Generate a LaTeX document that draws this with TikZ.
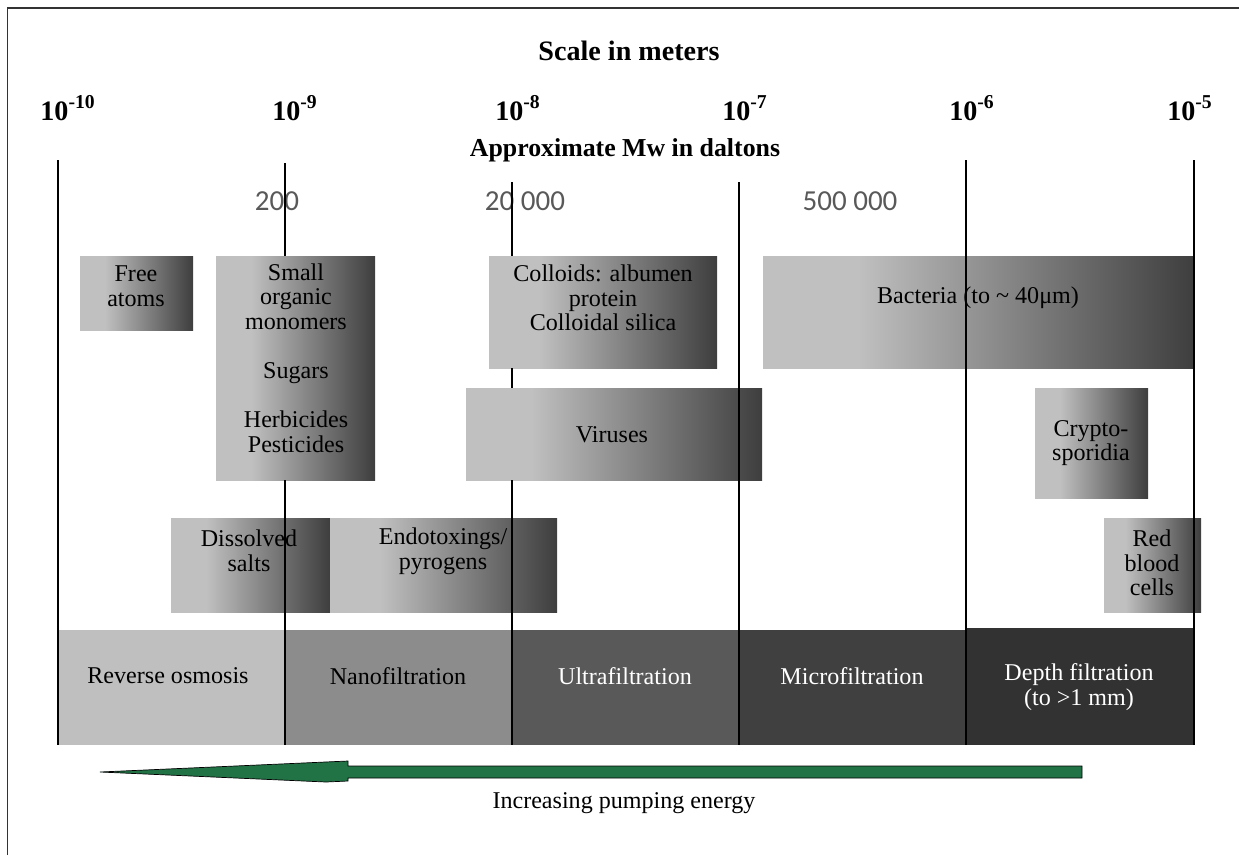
\documentclass[tikz,border=0pt]{standalone}
\usepackage{fontspec}
\setmainfont{Liberation Serif}
\newfontfamily\mwfont{Carlito}
\definecolor{boxlight}{RGB}{192,192,192}
\definecolor{boxdark}{RGB}{62,62,62}
\definecolor{rocolor}{RGB}{191,191,191}
\definecolor{nfcolor}{RGB}{140,140,140}
\definecolor{ufcolor}{RGB}{89,89,89}
\definecolor{mfcolor}{RGB}{64,64,64}
\definecolor{dfcolor}{RGB}{50,50,50}
\definecolor{pumpgreen}{RGB}{33,115,70}
\pgfdeclarehorizontalshading{sizeshade}{100bp}{color(0bp)=(boxlight); color(25bp)=(boxlight); color(36bp)=(boxlight); color(75bp)=(boxdark); color(100bp)=(boxdark)}
\tikzset{
  sizebox/.style={shading=sizeshade},
  sizetext/.style={align=center, inner sep=0pt, font=\fontsize{13.7}{14}\selectfont},
  bandtext/.style={sizetext, text=white},
  scaleline/.style={line width=0.8pt},
  headtext/.style={font=\bfseries\fontsize{16}{18}\selectfont, inner sep=0pt, anchor=base},
  mwtext/.style={font=\mwfont\fontsize{16.5}{18}\selectfont, text=black!65, inner sep=0pt, anchor=base},
}

\begin{document}
\begin{tikzpicture}[x=0.02cm, y=-0.02cm]
    \useasboundingbox (0,0) rectangle (1239,855);
    \draw[line width=1pt, black!80] (7.5,855) -- (7.5,8) -- (1239,8);

    \node[headtext] (title) at (629,61) {Scale in meters};
    \node[headtext] (e10) at (68,120) {10\textsuperscript{-10}};
    \node[headtext] (e9) at (295,120) {10\textsuperscript{-9}};
    \node[headtext] (e8) at (518,120) {10\textsuperscript{-8}};
    \node[headtext] (e7) at (745,120) {10\textsuperscript{-7}};
    \node[headtext] (e6) at (972,120) {10\textsuperscript{-6}};
    \node[headtext] (e5) at (1190,120) {10\textsuperscript{-5}};
    \node[headtext, font=\bfseries\fontsize{14.7}{16}\selectfont] (mw) at (625,156) {Approximate Mw in daltons};

    \node[mwtext] (mw200) at (277,210) {200};
    \node[mwtext] (mw20k) at (525,210) {20 000};
    \node[mwtext] (mw500k) at (850,210) {500 000};

    \fill[rocolor] (58,630) rectangle (285,745);
    \fill[nfcolor] (285,630) rectangle (512,745);
    \fill[ufcolor] (512,630) rectangle (739,745);
    \fill[mfcolor] (739,630) rectangle (966,745);
    \fill[dfcolor] (966,628) rectangle (1194,745);

    \node[sizetext] (ro) at (168,676) {Reverse osmosis};
    \node[sizetext] (nf) at (398,676) {Nanofiltration};
    \node[bandtext] (uf) at (625,676) {Ultrafiltration};
    \node[bandtext] (mf) at (852,676) {Microfiltration};
    \node[bandtext] (df) at (1079,687) {Depth filtration\\(to >1 mm)};

    \shade[sizebox] (80,256) rectangle (193,330);
    \shade[sizebox] (216,256) rectangle (375,480);
    \shade[sizebox] (489,256) rectangle (717,368);
    \shade[sizebox] (763,256) rectangle (1194,368);
    \shade[sizebox] (466,388) rectangle (762,480);
    \shade[sizebox] (1035,388) rectangle (1148,498);
    \shade[sizebox] (171,518) rectangle (330,612);
    \shade[sizebox] (330,518) rectangle (557,612);
    \shade[sizebox] (1104,518) rectangle (1201,612);

    \node[sizetext] (atoms) at (136,286) {Free\\atoms};
    \node[sizetext] (organic) at (296,358) {Small\\organic\\monomers\\[14pt]Sugars\\[14pt]Herbicides\\Pesticides};
    \node[sizetext] (colloids) at (603,298) {Colloids: albumen\\protein\\Colloidal silica};
    \node[sizetext] (bacteria) at (978,298) {Bacteria (to \textasciitilde{} 40μm)};
    \node[sizetext] (viruses) at (612,435) {Viruses};
    \node[sizetext] (crypto) at (1091,443) {Crypto-\\sporidia};
    \node[sizetext] (salts) at (249,551) {Dissolved\\salts};
    \node[sizetext] (endo) at (443,551) {Endotoxings/\\pyrogens};
    \node[sizetext] (blood) at (1152,563) {Red\\blood\\cells};

    \draw[scaleline] (58,160) -- (58,745);
    \draw[scaleline] (285,163) -- (285,256) (285,480) -- (285,745);
    \draw[scaleline] (512,182) -- (512,256) (512,368) -- (512,388) (512,480) -- (512,745);
    \draw[scaleline] (739,182) -- (739,745);
    \draw[scaleline] (966,160) -- (966,745);
    \draw[scaleline] (1194,160) -- (1194,745);

    \filldraw[fill=pumpgreen, draw=black, line width=0.4pt] (100,772) -- (348,761) -- (348,766) -- (1082,766) -- (1082,778) -- (348,778) -- (348,781) -- (326,782) -- cycle;
    \node[sizetext] (pump) at (624,803) {Increasing pumping energy};
\end{tikzpicture}
\end{document}
